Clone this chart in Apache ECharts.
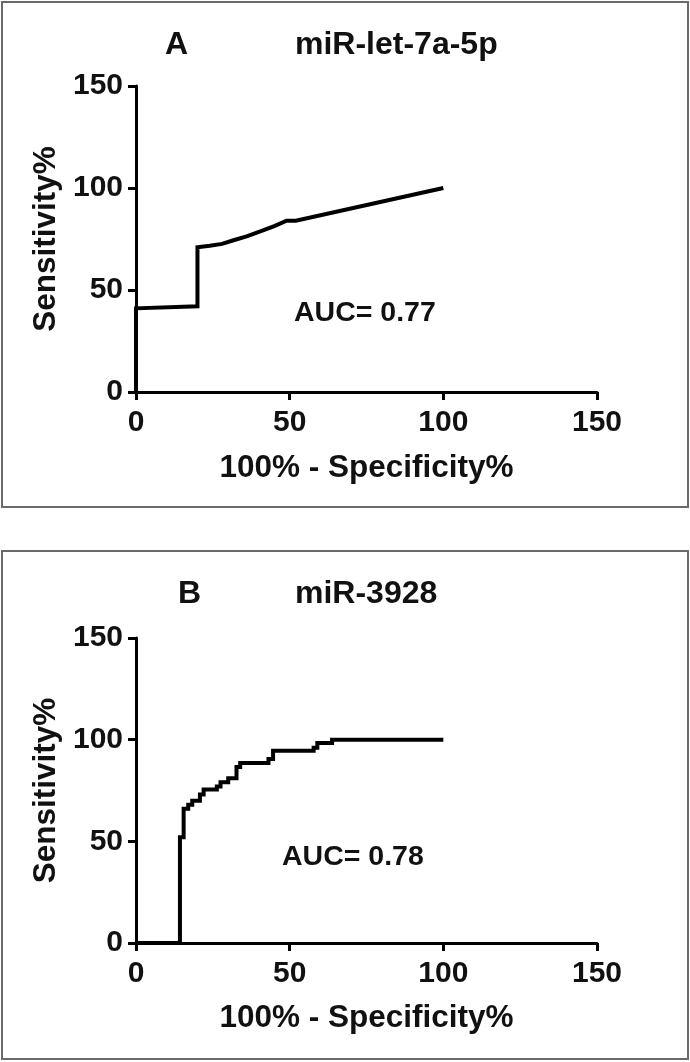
<!DOCTYPE html>
<html>
<head>
<meta charset="utf-8">
<script src="https://cdn.jsdelivr.net/npm/echarts@6/dist/echarts.min.js"></script>
<style>
html,body{margin:0;padding:0;background:#fff;}
#chart{width:690px;height:1062px;}
</style>
</head>
<body>
<div id="chart"></div>
<script>
// Panel A: miR-let-7a-5p ROC (100% - Specificity%, Sensitivity%)
const rocA_x = [0, 0, 20, 20, 24, 28, 32, 36, 40, 45, 49, 52, 100];
const rocA_y = [0, 41, 42, 71, 71.7, 72.6, 74.5, 76.3, 78.5, 81.3, 84, 84, 100];

// Panel B: miR-3928 ROC
const rocB_x = [0, 14.3, 14.3, 15.5, 15.5, 17, 17, 18.3, 18.3, 20.8, 20.8, 22, 22, 26.3, 26.3, 27.5, 27.5, 30, 30, 32.7, 32.7, 33.9, 33.9, 43.1, 43.1, 44.6, 44.6, 57.8, 57.8, 59, 59, 63.8, 63.8, 100];
const rocB_y = [0, 0, 52, 52, 66, 66, 68, 68, 70, 70, 73, 73, 75.5, 75.5, 77, 77, 79, 79, 81, 81, 86.5, 86.5, 88.5, 88.5, 90.5, 90.5, 94.5, 94.5, 96, 96, 98.3, 98.3, 100, 100];

const panelLetters = ['A', 'B'];
const panelTitles = ['miR-let-7a-5p', 'miR-3928'];
const aucTexts = ['AUC= 0.77', 'AUC= 0.78'];
const xAxisTitle = '100% - Specificity%';
const yAxisTitle = 'Sensitivity%';
const axisMin = 0, axisMax = 150, axisStep = 50;

const FONT = '"Liberation Sans", Arial, Helvetica, sans-serif';

function pairs(xs, ys) { return xs.map((x, i) => [x, ys[i]]); }

const grids = [
  {left: 136, width: 461, top: 86, height: 306},
  {left: 136, width: 461, top: 638, height: 305}
];
const xNameGaps = [60, 59];

function xAxisFor(i) {
  return {
    type: 'value', gridIndex: i, min: axisMin, max: axisMax, interval: axisStep,
    name: xAxisTitle, nameLocation: 'middle', nameGap: xNameGaps[i],
    nameTextStyle: {fontFamily: FONT, fontWeight: 'bold', fontSize: 31.5, color: '#111'},
    axisLine: {show: true, lineStyle: {color: '#000', width: 3}},
    axisTick: {show: true, inside: false, length: 8, lineStyle: {color: '#000', width: 3}},
    axisLabel: {fontFamily: FONT, fontWeight: 'bold', fontSize: 30, color: '#111', margin: 16},
    splitLine: {show: false}
  };
}
function yAxisFor(i) {
  return {
    type: 'value', gridIndex: i, min: axisMin, max: axisMax, interval: axisStep,
    name: yAxisTitle, nameLocation: 'middle', nameGap: 73, nameRotate: 90,
    nameTextStyle: {fontFamily: FONT, fontWeight: 'bold', fontSize: 31.5, color: '#111'},
    axisLine: {show: true, lineStyle: {color: '#000', width: 3}},
    axisTick: {show: true, inside: false, length: 8, lineStyle: {color: '#000', width: 3}},
    axisLabel: {fontFamily: FONT, fontWeight: 'bold', fontSize: 30, color: '#111', margin: 13},
    splitLine: {show: false}
  };
}

const chart = echarts.init(document.getElementById('chart'), null, {renderer: 'canvas'});

const textStyleBase = {fontFamily: FONT, fontWeight: 'bold', fill: '#111', verticalAlign: 'middle', align: 'left'};
const graphic = [
  {type: 'rect', shape: {x: 2, y: 2, width: 686, height: 505}, style: {fill: 'none', stroke: '#6a6a6a', lineWidth: 2}, silent: true},
  {type: 'rect', shape: {x: 2, y: 551, width: 686, height: 508}, style: {fill: 'none', stroke: '#6a6a6a', lineWidth: 2}, silent: true},
  {type: 'text', x: 165, y: 45, style: Object.assign({}, textStyleBase, {text: panelLetters[0], fontSize: 32})},
  {type: 'text', x: 295, y: 45, style: Object.assign({}, textStyleBase, {text: panelTitles[0], fontSize: 32})},
  {type: 'text', x: 178, y: 594, style: Object.assign({}, textStyleBase, {text: panelLetters[1], fontSize: 32})},
  {type: 'text', x: 295, y: 594, style: Object.assign({}, textStyleBase, {text: panelTitles[1], fontSize: 32})},
  {type: 'text', x: 294, y: 313, style: Object.assign({}, textStyleBase, {text: aucTexts[0], fontSize: 28.5})},
  {type: 'text', x: 282, y: 857, style: Object.assign({}, textStyleBase, {text: aucTexts[1], fontSize: 28.5})}
];

chart.setOption({
  animation: false,
  backgroundColor: '#fff',
  grid: grids,
  xAxis: [xAxisFor(0), xAxisFor(1)],
  yAxis: [yAxisFor(0), yAxisFor(1)],
  graphic: graphic,
  series: [
    {type: 'line', xAxisIndex: 0, yAxisIndex: 0, data: pairs(rocA_x, rocA_y), showSymbol: false, symbol: 'none',
     lineStyle: {color: '#000', width: 4, join: 'miter'}, z: 5},
    {type: 'line', xAxisIndex: 1, yAxisIndex: 1, data: pairs(rocB_x, rocB_y), showSymbol: false, symbol: 'none',
     lineStyle: {color: '#000', width: 4, join: 'miter'}, z: 5}
  ]
});
</script>
</body>
</html>
